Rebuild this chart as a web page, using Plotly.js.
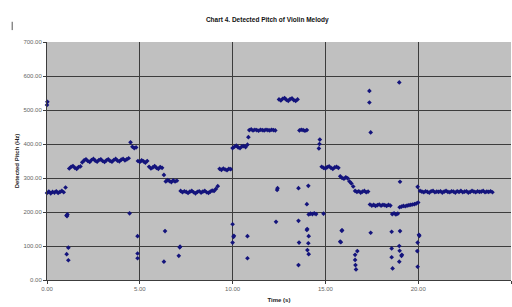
<!DOCTYPE html>
<html>
<head>
<meta charset="utf-8">
<script src="https://cdn.plot.ly/plotly-3.0.1.min.js"></script>
<style>html,body{margin:0;padding:0;background:#fff;}#chart{width:512px;height:307px;}</style>
</head>
<body>
<div id="chart"></div>
<script>
// Main detected pitch contour (time in s, pitch in Hz)
const contourTime = [
  0.0,0.1,0.2,0.3,0.4,0.5,0.6,0.7,0.8,0.9,1.0,
  1.2,1.3,1.4,1.5,1.6,1.7,1.8,
  1.9,2.0,2.1,2.2,2.3,2.4,2.5,2.6,2.7,2.8,2.9,3.0,3.1,3.2,3.3,3.4,3.5,3.6,3.7,3.8,3.9,4.0,4.1,4.2,4.3,4.4,
  4.5,4.6,4.7,4.8,
  4.9,5.0,5.1,5.2,5.3,5.4,
  5.5,5.6,5.7,5.8,5.9,6.0,6.1,6.2,
  6.3,
  6.4,6.5,6.6,6.7,6.8,6.9,7.0,
  7.2,7.3,7.4,7.5,7.6,7.7,7.8,7.9,8.0,8.1,8.2,8.3,8.4,8.5,8.6,8.7,8.8,8.9,9.0,9.1,9.2,
  9.3,9.4,9.5,9.6,9.7,9.8,9.9,
  10.0,10.1,10.2,10.3,10.4,10.5,10.6,10.7,10.8,10.85,
  10.9,11.0,11.1,11.2,11.3,11.4,11.5,11.6,11.7,11.8,11.9,12.0,12.1,12.2,12.3,
  12.5,12.6,12.7,12.8,12.9,13.0,13.1,13.2,13.3,13.4,13.5,
  13.6,13.7,13.8,13.9,14.0,
  14.1,14.2,14.3,14.4,14.5,
  14.65,14.68,14.7,
  14.8,14.9,15.0,15.1,15.2,15.3,15.4,15.5,15.6,15.7,
  15.8,15.9,16.0,16.1,16.2,
  16.3,16.4,16.5,
  16.6,16.7,16.8,16.9,17.0,17.1,17.2,17.3,
  17.4,17.5,17.6,17.7,17.8,17.9,18.0,18.1,18.2,18.3,18.4,18.5,
  18.6,18.7,18.8,18.9,
  19.0,19.1,19.2,19.3,19.4,19.5,19.6,19.7,19.8,19.9,20.0,
  20.1,20.2,20.3,20.4,20.5,20.6,20.7,20.8,20.9,21.0,21.1,21.2,21.3,21.4,21.5,21.6,21.7,21.8,21.9,22.0,
  22.1,22.2,22.3,22.4,22.5,22.6,22.7,22.8,22.9,23.0,23.1,23.2,23.3,23.4,23.5,23.6,23.7,23.8,23.9,24.0
];
const contourPitch = [
  256,260,255,259,257,261,256,259,262,258,272,
  328,333,335,330,327,332,334,
  346,352,355,350,347,353,356,351,348,353,355,350,347,352,355,350,348,353,356,351,349,354,356,352,355,358,
  405,392,388,390,
  350,347,352,349,345,350,
  333,328,331,335,330,327,332,330,
  309,
  290,294,291,288,293,290,292,
  262,258,261,259,256,260,262,258,255,259,261,257,260,262,258,256,260,263,262,268,276,
  327,324,328,325,323,327,326,
  388,392,395,390,388,393,394,391,398,420,
  441,443,440,442,441,439,442,441,440,442,441,440,442,441,440,
  531,528,533,535,530,527,532,534,529,527,531,
  440,442,441,439,441,
  193,195,194,196,194,
  387,400,413,
  333,330,328,332,334,330,327,331,333,330,
  305,300,298,302,299,
  290,284,275,
  262,259,261,257,260,262,258,260,
  222,219,221,218,220,222,219,221,220,218,221,219,
  194,196,193,195,
  214,216,218,217,219,220,221,222,223,225,228,
  262,260,258,261,259,257,261,262,258,260,259,261,257,260,262,259,258,261,260,257,
  261,259,262,258,260,261,257,259,262,260,258,261,259,260,262,258,260,259,261,258
];
// Scattered detections (octave errors / noise)
const outlierTime = [
  0.0,0.02,
  1.05,1.1,1.08,1.15,1.06,1.15,
  4.45,4.88,4.88,4.88,
  6.36,6.3,7.17,7.15,7.1,
  10.0,10.07,10.05,10.0,10.8,10.8,
  12.34,12.4,12.42,
  13.55,13.55,13.58,13.55,
  14.08,14.0,14.0,14.02,14.1,14.08,14.03,14.1,
  14.9,
  15.88,15.9,15.83,15.8,
  16.6,16.6,16.62,16.65,16.72,
  17.37,17.37,17.44,17.44,
  18.57,18.57,18.57,18.62,
  18.98,19.02,19.02,18.98,18.98,19.0,19.1,19.12,
  19.97,19.97,19.95,19.97,20.06,20.04
];
const outlierPitch = [
  515,524,
  190,193,188,95,76,58,
  196,129,78,64,
  144,54,98,96,71,
  164,130,127,110,129,64,
  171,265,270,
  270,174,110,44,
  277,223,147,150,129,108,88,76,
  195,
  145,146,111,113,
  74,59,44,31,85,
  556,522,434,139,
  142,93,67,34,
  581,289,144,100,54,86,71,74,
  274,110,85,39,130,133
];
const xTicks = [0,5,10,15,20,25];
const yTicks = [0,100,200,300,400,500,600,700];

const marker = {symbol:'diamond', size:3.6, color:'#14147c'};
const traces = [
  {x: contourTime, y: contourPitch, type:'scatter', mode:'markers', marker: marker, hoverinfo:'x+y', cliponaxis:false},
  {x: outlierTime, y: outlierPitch, type:'scatter', mode:'markers', marker: marker, hoverinfo:'x+y', cliponaxis:false}
];
const tickFont = {family:'Liberation Sans, Arial, sans-serif', size:6, color:'#666'};
const layout = {
  width:512, height:307,
  margin:{l:47, r:1, t:42, b:27},
  paper_bgcolor:'#ffffff',
  plot_bgcolor:'#c0c0c0',
  showlegend:false,
  title:{text:'<b>Chart 4. Detected Pitch of Violin Melody</b>', x:0.522, xref:'container', y:0.935, yanchor:'middle',
         font:{family:'Liberation Sans, Arial, sans-serif', size:6.5, color:'#111'}},
  xaxis:{range:[0,25], tickvals:xTicks, ticktext:xTicks.map(v=>v.toFixed(2)), showgrid:true, gridcolor:'#3c3c3c', gridwidth:1,
         zeroline:false, showline:true, linecolor:'#3c3c3c', ticks:'outside', ticklen:3, tickcolor:'#3c3c3c', tickfont:tickFont,
         title:{text:'<b>Time (s)</b>', font:{family:'Liberation Sans, Arial, sans-serif', size:6, color:'#222'}, standoff:6}},
  yaxis:{range:[0,700], tickvals:yTicks, ticktext:yTicks.map(v=>v.toFixed(2)), showgrid:true, gridcolor:'#3c3c3c', gridwidth:1,
         zeroline:false, showline:true, linecolor:'#3c3c3c', ticks:'outside', ticklen:3, tickcolor:'#3c3c3c', tickfont:tickFont,
         title:{text:'<b>Detected Pitch (Hz)</b>', font:{family:'Liberation Sans, Arial, sans-serif', size:6, color:'#222'}, standoff:3}},
  shapes:[{type:'line', xref:'paper', yref:'paper', x0:-0.075, x1:-0.075, y0:1.085, y1:1.05, line:{color:'#555', width:1}}]
};
Plotly.newPlot('chart', traces, layout, {staticPlot:true, displayModeBar:false});
</script>
</body>
</html>
